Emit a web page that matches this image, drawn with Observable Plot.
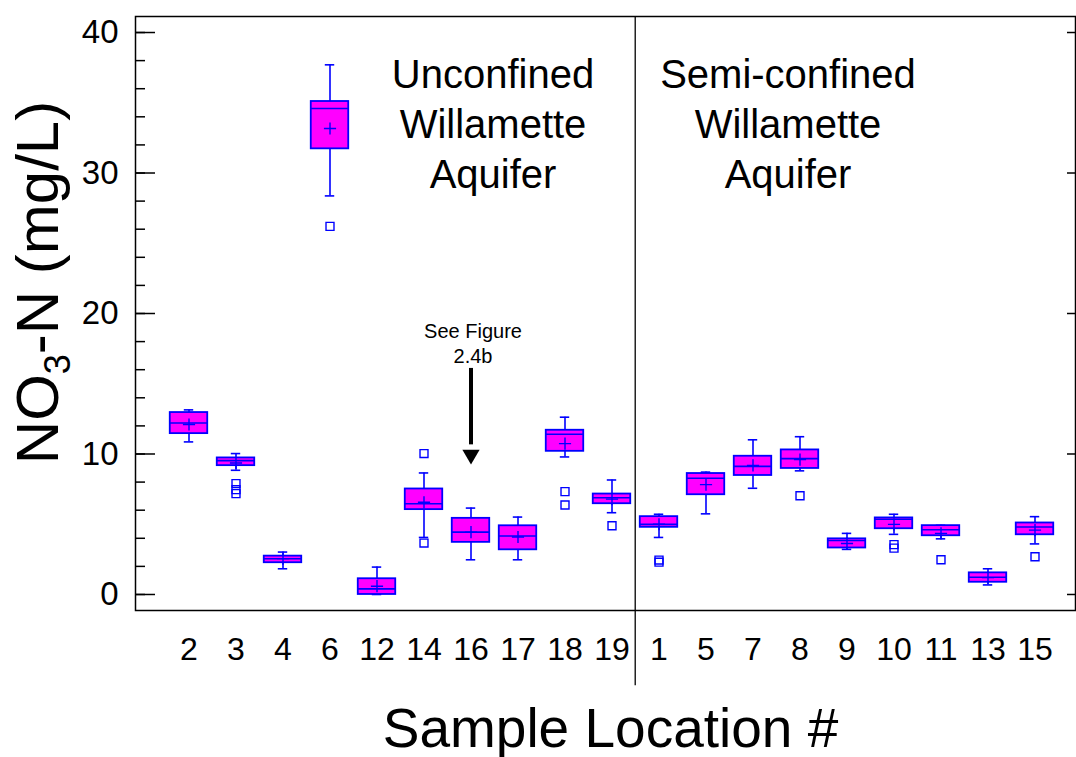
<!DOCTYPE html>
<html>
<head>
<meta charset="utf-8">
<script src="https://cdn.jsdelivr.net/npm/d3@7"></script>
<script src="https://cdn.jsdelivr.net/npm/@observablehq/plot@0.6"></script>
<style>
  body { margin: 0; background: #fff; }
</style>
</head>
<body>
<div id="chart"></div>
<script>
// Nitrate-N box plots by sample location (mg/L)
const sites       = ["2","3","4","6","12","14","16","17","18","19","1","5","7","8","9","10","11","13","15"];
const whiskerLow  = [10.86, 8.84, 1.83, 28.37, 0.00, 4.06, 2.47, 2.47,  9.79, 5.82, 4.06, 5.74,  7.56,  8.80, 3.21, 4.28, 3.96, 0.68, 3.60];
const quartile1   = [11.45, 9.17, 2.26, 31.72, 0.00, 6.04, 3.71, 3.18, 10.19, 6.46, 4.78, 7.10,  8.47,  8.97, 3.31, 4.68, 4.18, 0.87, 4.25];
const medians     = [12.21, 9.53, 2.54, 34.59, 0.40, 6.46, 4.44, 4.16, 11.40, 6.89, 4.99, 8.27,  9.12,  9.67, 3.84, 5.35, 4.61, 1.23, 4.80];
const quartile3   = [12.95, 9.72, 2.73, 35.09, 1.12, 7.51, 5.42, 4.89, 11.69, 7.15, 5.54, 8.61,  9.84, 10.29, 3.96, 5.45, 4.90, 1.54, 5.09];
const whiskerHigh = [13.14,10.03, 3.02, 37.70, 1.95, 8.65, 6.15, 5.51, 12.62, 8.15, 5.71, 8.71, 11.01, 11.23, 4.35, 5.71, 4.92, 1.83, 5.54];
const means       = [12.10, 9.36, 2.55, 33.17, 0.59, 6.56, 4.44, 4.09, 10.74, 6.79, 5.00, 7.82,  9.19,  9.60, 3.63, 4.99, 4.35, 1.20, 4.58];

// Outliers beyond the whiskers
const outlierSites  = ["3","3","3","6","14","14","18","18","19","1","1","8","10","10","11","15"];
const outlierValues = [7.89, 7.46, 7.18, 26.2, 10.03, 3.66, 7.32, 6.37, 4.89, 2.45, 2.30, 7.03, 3.55, 3.30, 2.47, 2.69];

// Axis ticks
const yTickLabels = [0, 10, 20, 30, 40];
const yMinorTicks = d3.range(0, 41, 2);

// Aquifer groups and annotation
const unconfinedLabel   = ["Unconfined\nWillamette\nAquifer"];
const semiconfinedLabel = ["Semi-confined\nWillamette\nAquifer"];
const groupY       = 33.6;
const dividerSite  = ["1"];
const noteText     = ["See Figure\n2.4b"];
const noteSite     = ["16"];
const noteY        = 17.97;
const arrowTop     = 16.09;
const arrowTip     = 9.25;
const yTitleText   = "NO3-N (mg/L)";

const boxes = sites.map((site, i) => ({
  site,
  lo: whiskerLow[i], q1: quartile1[i], med: medians[i],
  q3: quartile3[i], hi: whiskerHigh[i], mean: means[i]
}));
const outliers = outlierSites.map((site, i) => ({site, value: outlierValues[i]}));

const W = 1076, H = 757;
const mLeft = 135, mRight = 1, mTop = 16, mBottom = 147;
const innerW = W - mLeft - mRight;
const xInsetL = 24.5, xInsetR = 11.5;
const step = (innerW - xInsetL - xInsetR) / sites.length;
const boxInset = step * 0.1;
const capInset = (step - 10) / 2;

const blue = "#0000ff", magenta = "#ff00ff";
const font = "'Liberation Sans', Arial, Helvetica, sans-serif";

const chart = Plot.plot({
  width: W,
  height: H,
  marginLeft: mLeft,
  marginRight: mRight,
  marginTop: mTop,
  marginBottom: mBottom,
  style: {fontFamily: font, background: "white", overflow: "visible"},
  x: {type: "band", domain: sites, padding: 0, insetLeft: xInsetL, insetRight: xInsetR},
  y: {domain: [-1.14, 41.14]},
  marks: [
    // whiskers and caps
    Plot.ruleX(boxes, {x: "site", y1: "lo", y2: "hi", stroke: blue, strokeWidth: 1.6}),
    Plot.tickY(boxes, {x: "site", y: "lo", stroke: blue, strokeWidth: 1.6, insetLeft: capInset, insetRight: capInset}),
    Plot.tickY(boxes, {x: "site", y: "hi", stroke: blue, strokeWidth: 1.6, insetLeft: capInset, insetRight: capInset}),
    // interquartile boxes
    Plot.barY(boxes, {x: "site", y1: "q1", y2: "q3", fill: magenta, stroke: blue, strokeWidth: 1.8,
      insetLeft: boxInset, insetRight: boxInset}),
    Plot.tickY(boxes, {x: "site", y: "med", stroke: blue, strokeWidth: 1.6, insetLeft: boxInset, insetRight: boxInset}),
    // means
    Plot.dot(boxes, {x: "site", y: "mean", symbol: "plus", r: 4, stroke: blue, strokeWidth: 1.4}),
    // outliers
    Plot.dot(outliers, {x: "site", y: "value", symbol: "square", r: 4.5, fill: "none", stroke: blue, strokeWidth: 1.4}),
    // frame and inward ticks
    Plot.frame({stroke: "black", strokeWidth: 1.5}),
    Plot.tickY(yMinorTicks, {y: d => d, stroke: "black", strokeWidth: 1.5, insetRight: innerW - 10}),
    Plot.tickY(yTickLabels, {y: d => d, stroke: "black", strokeWidth: 1.5, insetRight: innerW - 20}),
    Plot.tickY(yTickLabels, {y: d => d, stroke: "black", strokeWidth: 1.5, insetLeft: innerW - 8}),
    Plot.axisY({ticks: yTickLabels, tickSize: 0, tickPadding: 17, fontSize: 33, label: null}),
    Plot.axisX({tickSize: 0, tickPadding: 27, fontSize: 32, label: null}),
    // divider between aquifer groups
    Plot.ruleX(dividerSite, {x: d => d, dx: -step / 2, y1: 41.14, y2: -6.5, stroke: "black", strokeWidth: 1.3}),
    // group labels
    Plot.text(unconfinedLabel, {x: () => "16", y: () => groupY, dx: 22,
      fontSize: 40, lineHeight: 1.25, lineAnchor: "middle", fill: "black"}),
    Plot.text(semiconfinedLabel, {x: () => "8", y: () => groupY, dx: -12,
      fontSize: 40, lineHeight: 1.25, lineAnchor: "middle", fill: "black"}),
    // note and arrow
    Plot.text(noteText, {x: (d, i) => noteSite[i], y: () => noteY, dx: 2, fontSize: 20, lineHeight: 1.25,
      lineAnchor: "middle", fill: "black"}),
    Plot.ruleX(noteSite, {x: d => d, y1: arrowTop, y2: arrowTip + 1.4, stroke: "black", strokeWidth: 4}),
    Plot.dot(noteSite, {x: d => d, y: arrowTip, symbol: "triangle", rotate: 180, r: 6.4, dy: -9.9, fill: "black"}),
    // axis titles
    Plot.text(["Sample Location #"], {frameAnchor: "bottom", dx: 5, dy: 119, lineAnchor: "middle", fontSize: 55, fill: "black"}),
    Plot.text([yTitleText], {frameAnchor: "left", textAnchor: "middle", rotate: -90, dx: -97, dy: -31, lineAnchor: "middle",
      fontSize: 60, fill: "black"})
  ]
});

// Subscript the 3 in the y-axis title
const yTitle = Array.from(chart.querySelectorAll("text")).find(t => t.textContent === yTitleText);
if (yTitle) {
  yTitle.textContent = "";
  const ns = "http://www.w3.org/2000/svg";
  const parts = [["NO", null], ["3", "sub"], ["-N (mg/L)", "back"]];
  for (const [t, kind] of parts) {
    const ts = document.createElementNS(ns, "tspan");
    ts.textContent = t;
    if (kind === "sub") { ts.setAttribute("font-size", "36"); ts.setAttribute("dy", "12"); }
    if (kind === "back") { ts.setAttribute("dy", "-12"); }
    yTitle.appendChild(ts);
  }
}

document.getElementById("chart").appendChild(chart);
</script>
</body>
</html>
